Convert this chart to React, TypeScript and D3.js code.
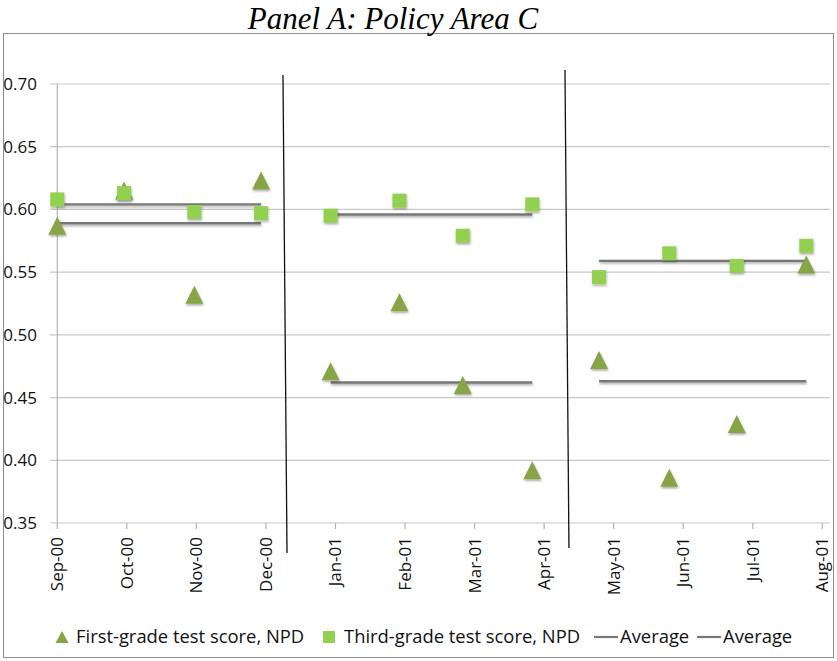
import * as d3 from 'd3';
import { useEffect, useRef } from "react";

// month labels on the x axis
const months = ["Sep-00", "Oct-00", "Nov-00", "Dec-00", "Jan-01", "Feb-01", "Mar-01", "Apr-01", "May-01", "Jun-01", "Jul-01", "Aug-01"];
// where each observation sits along the month axis (in month steps from Sep-00)
const pointPos = [0, 0.96, 1.97, 2.93, 3.93, 4.92, 5.83, 6.83, 7.79, 8.80, 9.77, 10.77];
const firstGrade = [0.587, 0.615, 0.532, 0.623, 0.471, 0.526, 0.460, 0.392, 0.480, 0.386, 0.429, 0.556];
const thirdGrade = [0.608, 0.613, 0.598, 0.597, 0.595, 0.607, 0.579, 0.604, 0.546, 0.565, 0.555, 0.571];
// periods: index of first and last observation
const periods = [[0, 3], [4, 7], [8, 11]];
const avgFirst = [0.589, 0.462, 0.463];
const avgThird = [0.604, 0.596, 0.559];
const yTicks = [0.35, 0.40, 0.45, 0.50, 0.55, 0.60, 0.65, 0.70];
// hand drawn separators (month position at top / bottom, value at top / bottom)
const dividers = [
    { x0: 3.245, x1: 3.303, y0: 0.7072, y1: 0.3261 },
    { x0: 7.30, x1: 7.357, y0: 0.7112, y1: 0.3301 },
];

const App = () => {
    const svgRef = useRef(null);
    const width = 837, height = 661;

    useEffect(() => {
        const svg = d3.select(svgRef.current)
            .attr('width', width)
            .attr('height', height);
        svg.selectAll('*').remove();

        const font = "'Open Sans', 'DejaVu Sans', sans-serif";
        const triColor = '#87a447';
        const sqColor = '#92d050';
        const avgColor = '#777777';

        const defs = svg.append('defs');
        const f = defs.append('filter').attr('id', 'shadow')
            .attr('x', '-50%').attr('y', '-50%').attr('width', '200%').attr('height', '200%');
        f.append('feDropShadow').attr('dx', 0.6).attr('dy', 1.6)
            .attr('stdDeviation', 0.9).attr('flood-color', '#000').attr('flood-opacity', 0.35);

        const x = d3.scaleLinear().domain([0, 11]).range([57.3, 822.3]);
        const y = d3.scaleLinear().domain([0.35, 0.70]).range([523, 84]);

        // outer frame
        svg.append('rect')
            .attr('x', 3.5).attr('y', 33.5)
            .attr('width', 830).attr('height', 624)
            .attr('fill', 'white')
            .attr('stroke', '#8c8c8c');

        // title
        svg.append('text')
            .attr('x', 393)
            .attr('y', 28.5)
            .attr('text-anchor', 'middle')
            .style('font-family', "'Liberation Serif', 'Times New Roman', serif")
            .style('font-style', 'italic')
            .style('font-size', '31px')
            .attr('fill', '#000')
            .text('Panel A: Policy Area C');

        // gridlines
        svg.append('g').selectAll('line').data(yTicks).enter().append('line')
            .attr('x1', 50).attr('x2', 830)
            .attr('y1', d => y(d)).attr('y2', d => y(d))
            .attr('stroke', '#c8c8c8').attr('stroke-width', 1.2);

        // y axis line
        svg.append('line')
            .attr('x1', x(0)).attr('x2', x(0))
            .attr('y1', y(0.70)).attr('y2', y(0.35))
            .attr('stroke', '#b4b4b4').attr('stroke-width', 1.2);

        // x ticks
        svg.append('g').selectAll('line').data(months).enter().append('line')
            .attr('x1', (d, i) => x(i)).attr('x2', (d, i) => x(i))
            .attr('y1', y(0.35)).attr('y2', y(0.35) + 6)
            .attr('stroke', '#b4b4b4').attr('stroke-width', 1.2);

        // y labels
        svg.append('g').selectAll('text').data(yTicks).enter().append('text')
            .attr('x', 37)
            .attr('y', d => y(d))
            .attr('dy', '0.35em')
            .attr('text-anchor', 'end')
            .style('font-family', font)
            .style('font-size', '17px')
            .attr('fill', '#111')
            .text(d => d3.format('.2f')(d));

        // x labels
        svg.append('g').selectAll('text').data(months).enter().append('text')
            .attr('transform', (d, i) => `translate(${x(i)},537) rotate(-90)`)
            .attr('dy', '0.35em')
            .attr('text-anchor', 'end')
            .style('font-family', font)
            .style('font-size', '17px')
            .attr('fill', '#111')
            .text(d => d);

        // dividers
        svg.append('g').selectAll('line').data(dividers).enter().append('line')
            .attr('x1', d => x(d.x0)).attr('x2', d => x(d.x1))
            .attr('y1', d => y(d.y0)).attr('y2', d => y(d.y1))
            .attr('stroke', '#111').attr('stroke-width', 1.3);

        // average lines
        const avgs = [];
        periods.forEach((p, i) => {
            avgs.push({ a: p[0], b: p[1], v: avgThird[i] });
            avgs.push({ a: p[0], b: p[1], v: avgFirst[i] });
        });
        svg.append('g').attr('filter', 'url(#shadow)')
            .selectAll('line').data(avgs).enter().append('line')
            .attr('x1', d => x(pointPos[d.a])).attr('x2', d => x(pointPos[d.b]))
            .attr('y1', d => y(d.v)).attr('y2', d => y(d.v))
            .attr('stroke', avgColor).attr('stroke-width', 2.4);

        // triangles
        const tri = (cx, cy, w, h) => `M${cx},${cy - h / 2}L${cx + w / 2},${cy + h / 2}L${cx - w / 2},${cy + h / 2}Z`;
        svg.append('g').attr('filter', 'url(#shadow)')
            .selectAll('path').data(firstGrade).enter().append('path')
            .attr('d', (d, i) => tri(x(pointPos[i]), y(d), 18, 18))
            .attr('fill', triColor);

        // squares
        svg.append('g').attr('filter', 'url(#shadow)')
            .selectAll('rect').data(thirdGrade).enter().append('rect')
            .attr('x', (d, i) => x(pointPos[i]) - 7)
            .attr('y', d => y(d) - 7)
            .attr('width', 14).attr('height', 14)
            .attr('fill', sqColor);

        // legend
        const ly = 637;
        const lg = svg.append('g').style('font-family', font).style('font-size', '18.4px').attr('fill', '#111');
        lg.append('path').attr('d', tri(62, ly, 13, 12)).attr('fill', triColor);
        lg.append('text').attr('x', 76).attr('y', ly).attr('dy', '0.35em').text('First-grade test score, NPD');
        lg.append('rect').attr('x', 323).attr('y', ly - 6).attr('width', 12).attr('height', 12).attr('fill', sqColor);
        lg.append('text').attr('x', 344).attr('y', ly).attr('dy', '0.35em').text('Third-grade test score, NPD');
        lg.append('line').attr('x1', 594).attr('x2', 618).attr('y1', ly).attr('y2', ly).attr('stroke', avgColor).attr('stroke-width', 2.2);
        lg.append('text').attr('x', 620).attr('y', ly).attr('dy', '0.35em').text('Average');
        lg.append('line').attr('x1', 697).attr('x2', 721).attr('y1', ly).attr('y2', ly).attr('stroke', avgColor).attr('stroke-width', 2.2);
        lg.append('text').attr('x', 723).attr('y', ly).attr('dy', '0.35em').text('Average');
    });

    return (
        <div style={{ position: 'absolute', left: 0, top: 0 }}>
            <svg ref={svgRef} style={{ display: 'block' }} />
        </div>
    );
}

export default App;
